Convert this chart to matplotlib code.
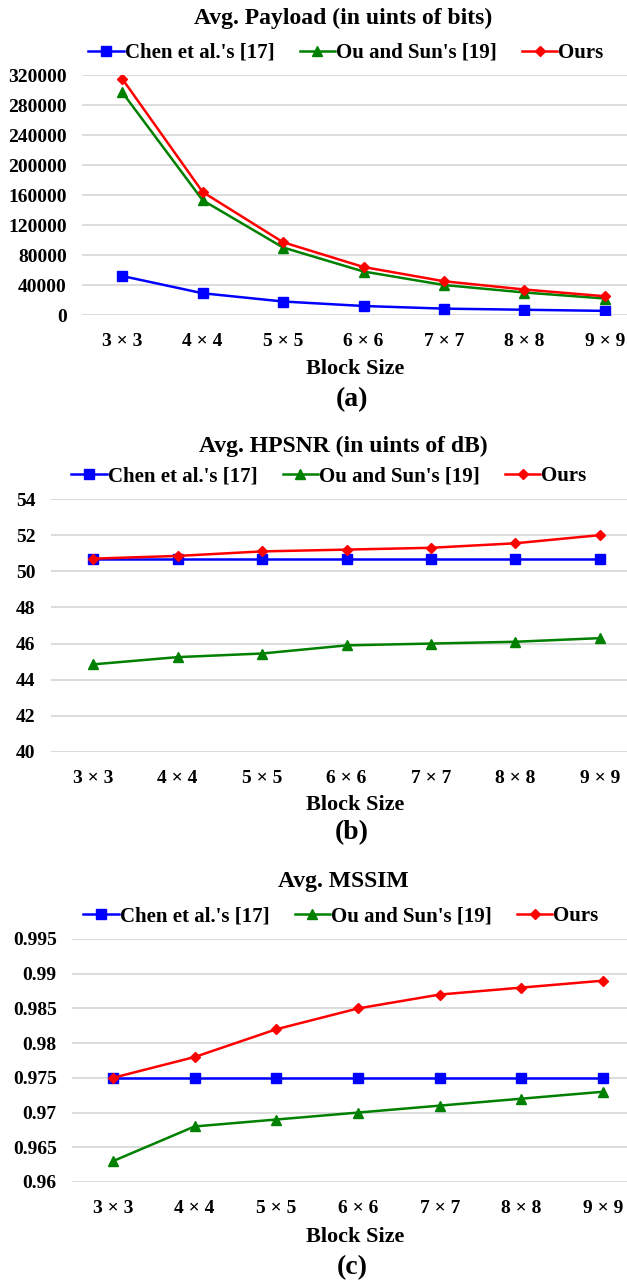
import matplotlib
matplotlib.use('Agg')
import matplotlib.pyplot as plt

# data
blocks = ['3 × 3', '4 × 4', '5 × 5', '6 × 6', '7 × 7', '8 × 8', '9 × 9']
names = ["Chen et al.'s [17]", "Ou and Sun's [19]", 'Ours']

payload_chen = [52000, 29000, 18000, 12000, 8500, 7000, 5500]
payload_ou = [297000, 153000, 90000, 58000, 40000, 30000, 22000]
payload_ours = [315000, 164000, 97000, 64000, 45000, 34000, 25000]

psnr_chen = [50.7, 50.7, 50.7, 50.7, 50.7, 50.7, 50.7]
psnr_ou = [44.85, 45.25, 45.45, 45.9, 46.0, 46.1, 46.3]
psnr_ours = [50.7, 50.85, 51.1, 51.2, 51.3, 51.55, 52.0]

ssim_chen = [0.975, 0.975, 0.975, 0.975, 0.975, 0.975, 0.975]
ssim_ou = [0.963, 0.968, 0.969, 0.970, 0.971, 0.972, 0.973]
ssim_ours = [0.975, 0.978, 0.982, 0.985, 0.987, 0.988, 0.989]

plt.rcParams['font.family'] = ['Liberation Serif', 'DejaVu Serif']
plt.rcParams['font.weight'] = 'bold'

W, H = 627, 1288
fig = plt.figure(figsize=(W / 100, H / 100), dpi=100)


def px(x, y):
    return x / W, 1 - y / H


panels = [
    # title, data, yticks, ticklabels, box (l, r, top, bottom), title y, legend (x,y), label y, letter y
    ('Avg. Payload (in uints of bits)', (payload_chen, payload_ou, payload_ours),
     list(range(0, 320001, 40000)), None, (82, 645, 75, 315), 18, (346, 53), 369, 400, '(a)'),
    ('Avg. HPSNR (in uints of dB)', (psnr_chen, psnr_ou, psnr_ours),
     list(range(40, 55, 2)), None, (51, 642, 499, 752), 446, (329, 476), 805, 833, '(b)'),
    ('Avg. MSSIM', (ssim_chen, ssim_ou, ssim_ours),
     [0.96, 0.965, 0.97, 0.975, 0.98, 0.985, 0.99, 0.995],
     ['0.96', '0.965', '0.97', '0.975', '0.98', '0.985', '0.99', '0.995'],
     (72, 644, 939, 1182), 881, (341, 916), 1237, 1268, '(c)'),
]

styles = [('#0000ff', 's', 7), ('#008000', '^', 7), ('#ff0000', 'D', 5)]

for title, series, yt, ytl, box, ty, leg, ly, lty, letter in panels:
    l, r, t, b = box
    ax = fig.add_axes([l / W, 1 - b / H, (r - l) / W, (b - t) / H])
    x = range(len(blocks))
    for vals, name, (c, m, ms) in zip(series, names, styles):
        ax.plot(x, vals, color=c, marker=m, markersize=ms, linewidth=1.8, label=name)
    ax.set_xlim(-0.5, len(blocks) - 0.5)
    ax.set_ylim(yt[0], yt[-1])
    ax.set_yticks(yt)
    if ytl:
        ax.set_yticklabels(ytl)
    ax.set_xticks(list(x))
    ax.set_xticklabels(blocks)
    ax.grid(axis='y', color='#d9d9d9', linewidth=1.3)
    ax.set_axisbelow(True)
    for s in ax.spines.values():
        s.set_visible(False)
    ax.tick_params(length=0, labelsize=14)
    ax.tick_params(axis='y', pad=11)
    ax.tick_params(axis='x', pad=13)
    for lab in ax.get_xticklabels() + ax.get_yticklabels():
        lab.set_fontweight('bold')

    fig.text(*px(343, ty), title, ha='center', va='center', fontsize=17, fontweight='bold')
    fig.legend(*ax.get_legend_handles_labels(), loc='center', bbox_to_anchor=px(*leg),
               ncol=3, frameon=False, handlelength=1.7, handletextpad=0.05,
               columnspacing=1.2, prop={'weight': 'bold', 'size': 15})
    fig.text(*px(355, ly), 'Block Size', ha='center', va='center', fontsize=16, fontweight='bold')
    fig.text(*px(352, lty), letter, ha='center', va='center', fontsize=20, fontweight='bold')

fig.savefig('out.png', dpi=100)
